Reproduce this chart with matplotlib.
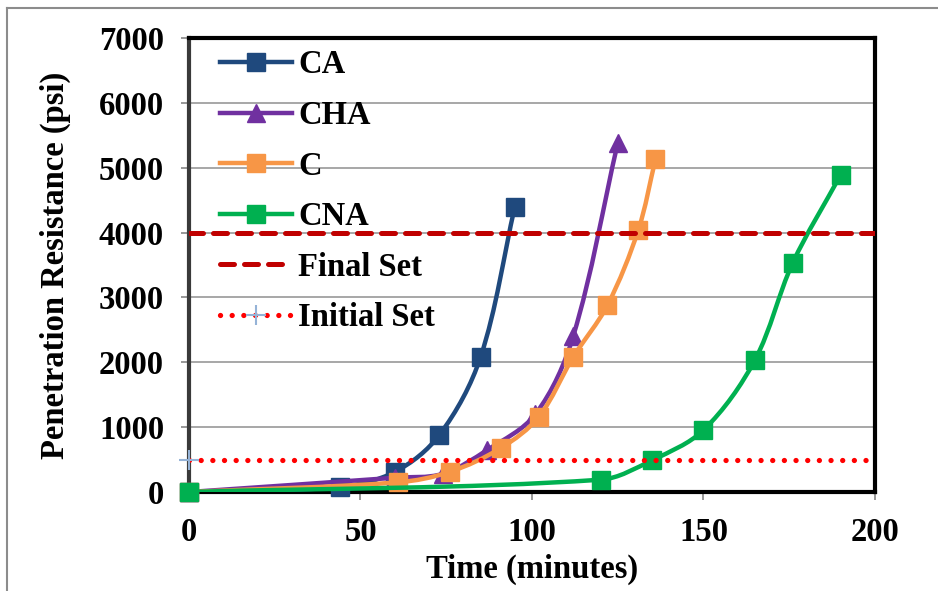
import numpy as np
import matplotlib
matplotlib.use('Agg')
import matplotlib.pyplot as plt
from matplotlib.path import Path
from matplotlib.patches import PathPatch
from matplotlib.lines import Line2D

plt.rcParams['font.family'] = ['Liberation Serif', 'DejaVu Serif']
plt.rcParams['font.weight'] = 'bold'

# readings from the chart (time in minutes, resistance in psi)
ca_t = [0, 44, 60, 73, 85, 95]
ca_p = [0, 80, 310, 880, 2080, 4400]
cha_t = [0, 60, 74, 87, 101, 112, 125]
cha_p = [0, 220, 280, 650, 1200, 2400, 5380]
c_t = [0, 61, 76, 91, 102, 112, 122, 131, 136]
c_p = [0, 150, 310, 680, 1160, 2080, 2880, 4040, 5130]
cna_t = [0, 120, 135, 150, 165, 176, 190]
cna_p = [0, 190, 490, 955, 2035, 3530, 4890]
final_set = 4000
initial_set = 500

names = ['CA', 'CHA', 'C', 'CNA']
colors = ['#1F497D', '#7030A0', '#F79646', '#00B050']
markers = ['s', '^', 's', 's']
FS = 23.5
XMAX, YMAX = 200, 7000


def smooth_path(x, y, sx=686.0 / XMAX, sy=454.0 / YMAX):
    # smoothed line: cubic bezier through every point, tangent from the
    # neighbours, handle length a third of the segment (in screen units)
    p = np.column_stack([np.asarray(x) * sx, np.asarray(y) * sy]).astype(float)
    n = len(p)
    tang = []
    for i in range(n):
        a = p[max(i - 1, 0)]
        b = p[min(i + 1, n - 1)]
        d = b - a
        tang.append(d / (np.hypot(*d) + 1e-12))
    verts = [p[0]]
    codes = [Path.MOVETO]
    for i in range(n - 1):
        L = np.hypot(*(p[i + 1] - p[i])) / 3.0
        verts += [p[i] + tang[i] * L, p[i + 1] - tang[i + 1] * L, p[i + 1]]
        codes += [Path.CURVE4] * 3
    verts = np.array(verts) / [sx, sy]
    return Path(verts, codes)


fig = plt.figure(figsize=(9.38, 5.91), dpi=100)
ax = fig.add_axes([0.2015, 0.1675, 0.7313, 0.7682])

series = [(ca_t, ca_p), (cha_t, cha_p), (c_t, c_p), (cna_t, cna_p)]
handles = []
for (t, p), name, col, mk in zip(series, names, colors, markers):
    ax.add_patch(PathPatch(smooth_path(t, p), fill=False, edgecolor=col,
                           lw=3.2, capstyle='round', zorder=3))
    ax.plot(t, p, ls='none', marker=mk, ms=13, color=col, mec=col,
            clip_on=False, zorder=3)
    handles.append(Line2D([], [], color=col, lw=3.2, marker=mk, ms=13, mec=col))

dash = (0, (2.8, 2.0))
ax.plot([0, XMAX], [final_set, final_set], color='#C00000', lw=3.6,
        ls=dash, dash_capstyle='round', zorder=4)
handles.append(Line2D([], [], color='#C00000', lw=3.6, ls=dash,
                      dash_capstyle='round'))
dot = (0, (0.01, 2.2))
ax.plot([0, XMAX], [initial_set, initial_set], color='#FF0000', lw=3.8,
        ls=dot, dash_capstyle='round', zorder=4)
ax.plot([0], [initial_set], ls='none', marker='+', ms=14, mew=1.5,
        color='#95B3D7', clip_on=False, zorder=5)
handles.append(Line2D([], [], color='#FF0000', lw=3.8, ls=dot,
                      dash_capstyle='round', marker='+', ms=14, mew=1.5,
                      mec='#95B3D7'))

ax.set_xlim(0, XMAX)
ax.set_ylim(0, YMAX)
ax.set_xticks([0, 50, 100, 150, 200])
ax.set_yticks(np.arange(0, YMAX + 1, 1000))
ax.yaxis.grid(True, color='#A0A0A0', lw=1.3)
ax.set_axisbelow(True)

for s in ['top', 'right', 'bottom']:
    ax.spines[s].set_color('black')
    ax.spines[s].set_linewidth(3)
ax.spines['left'].set_color('#3A3A3A')
ax.spines['left'].set_linewidth(3)

ax.tick_params(axis='both', colors='#909090', labelcolor='black',
               labelsize=FS, width=1.3, length=6)
ax.tick_params(axis='y', pad=12)
ax.tick_params(axis='x', pad=12)
for lab in ax.get_xticklabels() + ax.get_yticklabels():
    lab.set_fontweight('bold')

ax.set_xlabel('Time (minutes)', fontsize=FS, fontweight='bold', labelpad=4)
ax.set_ylabel('Penetration Resistance (psi)', fontsize=FS,
              fontweight='bold', labelpad=20)

leg = ax.legend(handles, names + ['Final Set', 'Initial Set'],
                loc='upper left', bbox_to_anchor=(0.045, 0.975),
                frameon=False, fontsize=FS, handlelength=2.2,
                handletextpad=0.2, labelspacing=0.6, borderpad=0,
                borderaxespad=0)
for txt in leg.get_texts():
    txt.set_fontweight('bold')

# outer chart frame (left and top edges visible)
fig.add_artist(Line2D([7 / 938, 7 / 938], [0, 1 - 8 / 591],
                      transform=fig.transFigure, color='#8C8C8C', lw=1.5))
fig.add_artist(Line2D([7 / 938, 1], [1 - 8 / 591, 1 - 8 / 591],
                      transform=fig.transFigure, color='#8C8C8C', lw=1.5))

fig.savefig('out.png', dpi=100)
